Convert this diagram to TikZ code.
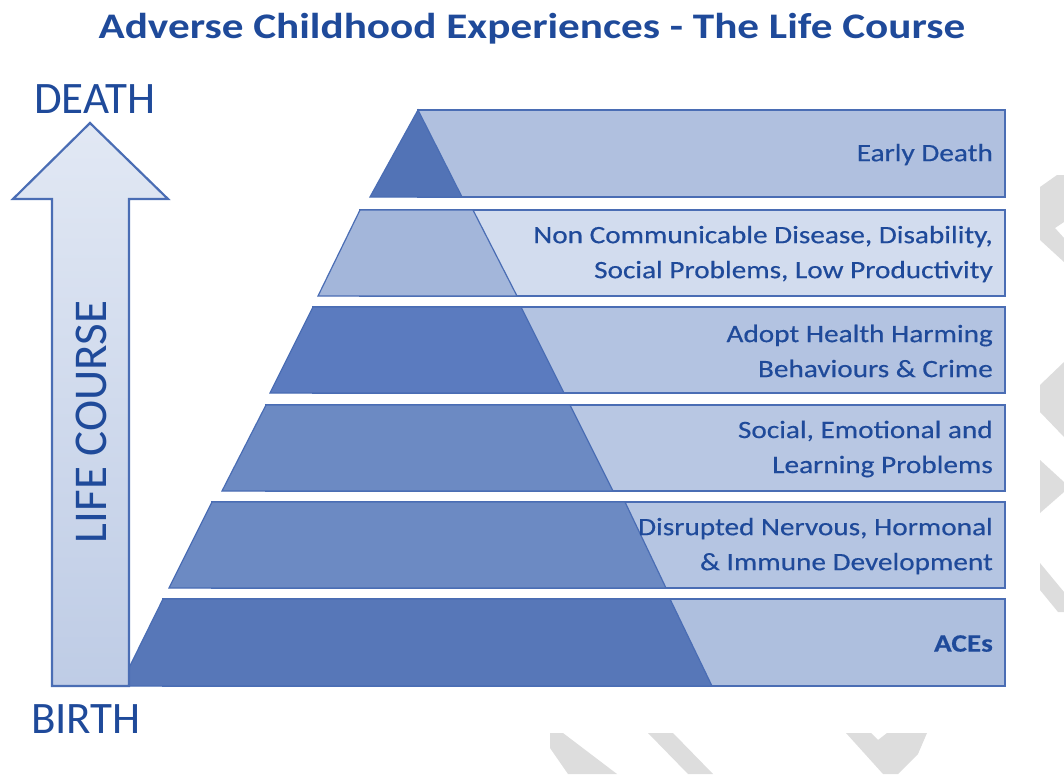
\documentclass[tikz,border=0pt]{standalone}
\usepackage{fontspec}
\setmainfont{Carlito}
\newfontfamily\bandfont{Carlito}[FakeStretch=1.17,FakeBold=0.4]
\newfontfamily\titlefont{Carlito}[FakeStretch=1.2]
\usetikzlibrary{calc}
\definecolor{acetext}{HTML}{1F4A9A}
\definecolor{aceline}{HTML}{4A6DB4}
\definecolor{bandA}{HTML}{B0C0DF}
\definecolor{bandB}{HTML}{D2DCEE}
\definecolor{bandC}{HTML}{B3C3E1}
\definecolor{bandD}{HTML}{B8C7E3}
\definecolor{bandE}{HTML}{B5C5E2}
\definecolor{bandF}{HTML}{AEBFDE}
\definecolor{pyrA}{HTML}{5273B6}
\definecolor{pyrB}{HTML}{A3B6DA}
\definecolor{pyrC}{HTML}{5B7BBF}
\definecolor{pyrD}{HTML}{6C8AC3}
\definecolor{pyrE}{HTML}{6C8AC3}
\definecolor{pyrF}{HTML}{5777B8}
\definecolor{wmark}{HTML}{DDDDDD}

\begin{document}
\begin{tikzpicture}[x=1pt,y=-1pt,
		bandbox/.style={fill=#1,draw=aceline,line width=1.2},
		bandtxt/.style={anchor=east,inner sep=0pt,align=right,text=acetext,
			font=\bandfont\fontsize{25}{35}\selectfont},
		sidetxt/.style={inner sep=0pt,text=acetext,font=\fontsize{45}{50}\selectfont}]
		\useasboundingbox (0,0) rectangle (1064,774);
		\newcommand{\rgt}{1005} %right end of bands
		% watermark pieces
		\fill[wmark] (1040,187) -- (1057,175) -- (1064,175) -- (1064,222) -- (1055,228) -- (1064,238) -- (1064,262) -- (1040,240) -- cycle;
		\fill[wmark] (1040,385) -- (1064,362) -- (1064,437) -- (1040,412) -- cycle;
		\fill[wmark] (1040,460) -- (1064,482) -- (1064,492) -- (1040,513) -- cycle;
		\fill[wmark] (1040,563) -- (1064,592) -- (1064,612) -- (1058,612) -- (1040,590) -- cycle;
		\fill[wmark] (550,733) -- (563,733) -- (617,774) -- (568,774) -- (550,748) -- cycle;
		\fill[wmark] (648,733) -- (673,733) -- (713,774) -- (688,774) -- cycle;
		\fill[wmark] (846,733) -- (871,733) -- (878,740) -- (887,733) -- (927,733) -- (918,754) -- (898,774) -- (883,774) -- cycle;
		% pyramid rows: top y/bottom y/top left/bottom left/top right/bottom right
		\foreach \ya/\yb/\tl/\bl/\tr/\br/\cb/\cp/\txt [count=\i] in {
			110/197/418/370/418/462/bandA/pyrA/{Early Death},
			210/296/360/318/473/517/bandB/pyrB/{Non Communicable Disease, Disability,\\Social Problems, Low Productivity},
			307/393/313/270/521/564/bandC/pyrC/{Adopt Health Harming\\Behaviours \& Crime},
			405/491/266/222/570/613/bandD/pyrD/{Social, Emotional and\\Learning Problems},
			502/588/212/169/625/666/bandE/pyrE/{Disrupted Nervous, Hormonal\\\& Immune Development},
			599/686/163/120/670/712/bandF/pyrF/{\bfseries ACEs}}{
			\filldraw[bandbox=\cb] (\tl,\ya) rectangle (\rgt,\yb); %band
			\filldraw[bandbox=\cp] (\tl,\ya) -- (\tr,\ya) -- (\br,\yb) -- (\bl,\yb) -- cycle; %pyramid step
			\node[bandtxt] (t\i) at (993,{(\ya+\yb)/2+1}) {\txt};
		}
		% life course arrow
		\draw[aceline,line width=2.2,top color=bandB!65!white,bottom color=bandC!85!white]
			(52,686) -- (52,199) -- (13,199) -- (90,123) -- (168,199) -- (129,199) -- (129,686) -- cycle;
		\node[sidetxt,rotate=90,font=\fontsize{47}{50}\selectfont] (lifecourse) at (91,422) {LIFE COURSE};
		\node[sidetxt,anchor=base] (death) at (95,113) {DEATH};
		\node[sidetxt,anchor=base] (birth) at (86,733) {BIRTH};
		\node[anchor=base,inner sep=0pt,text=acetext,font=\titlefont\bfseries\fontsize{36}{40}\selectfont] (title)
			at (532,38) {Adverse Childhood Experiences - The Life Course};
	\end{tikzpicture}
\end{document}
